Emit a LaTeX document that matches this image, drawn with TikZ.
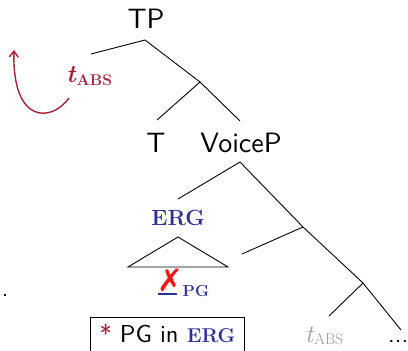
\documentclass[tikz,border=0pt]{standalone}
\usepackage{fontspec}
\usetikzlibrary{arrows.meta}
\setsansfont{lmsans10-regular.otf}
\newfontfamily\dejavu{DejaVu Sans}
\definecolor{absred}{HTML}{A3243B}
\definecolor{ergblue}{HTML}{2E3192}
\definecolor{grayt}{HTML}{9A9A9A}
\definecolor{xred}{HTML}{F01818}
\begin{document}
\begin{tikzpicture}[x=1pt,y=-1pt,
  br/.style={line width=0.9pt},
  lab/.style={inner sep=0pt, anchor=base},
  big/.style={font=\sffamily\fontsize{28}{30}\selectfont},
  ergst/.style={text=ergblue, font=\rmfamily\bfseries\fontsize{22}{24}\selectfont}]
\clip (0,0) rectangle (408,351);
% labels
\node[lab,big] (tp) at (146,28) {TP};
\node[lab,big] (tt) at (156,152) {T};
\node[lab,big] (voicep) at (241,152) {VoiceP};
\node[lab,ergst] (erg) at (178,225.5) {ERG};
\node[lab,anchor=base west,text=absred,font=\rmfamily\bfseries\fontsize{25}{26}\selectfont] (tabs) at (66,82)
  {\textit{t}\raisebox{-3pt}{\fontsize{15.5}{16}\selectfont ABS}};
\node[lab,anchor=base west,text=grayt,font=\rmfamily\fontsize{25}{28}\selectfont] (tgray) at (305,342)
  {\textit{t}\raisebox{-2pt}{\fontsize{15.5}{17}\selectfont ABS}};
\node[lab,anchor=base west,font=\sffamily\fontsize{24}{28}\selectfont] (dots) at (388,342) {...};
\node[fill=black,inner sep=0pt,minimum size=2.2pt] (dot) at (5,295) {};
% tree coordinates
\coordinate (tpL) at (91,54);
\coordinate (tpTop) at (145,40);
\coordinate (tbar) at (200,82);
\coordinate (tT) at (157,120);
\coordinate (tV) at (240,121);
\coordinate (vB) at (240,162);
\coordinate (vL) at (178,199);
\coordinate (v1) at (303,227);
\coordinate (v1L) at (242,254);
\coordinate (v2) at (363,283);
\coordinate (v2L) at (329,316);
\coordinate (v2R) at (401,330);
\draw[br] (tpL) -- (tpTop) -- (tbar) -- (tT);
\draw[br] (tbar) -- (tV);
\draw[br] (vL) -- (vB) -- (v1) -- (v2) -- (v2R);
\draw[br] (v1) -- (v1L);
\draw[br] (v2) -- (v2L);
% triangle
\coordinate (triA) at (178,237);
\coordinate (triL) at (128,267);
\coordinate (triR) at (228,267);
\draw[br] (triL) -- (triA) -- (triR) -- cycle;
% crossed-out PG
\node[inner sep=0pt,text=xred,font=\dejavu\bfseries\fontsize{31}{34}\selectfont] (xx) at (170.5,280) {✗};
\coordinate (ulL) at (158,294);
\coordinate (ulR) at (177,294);
\draw[ergblue,line width=1.1pt] (ulL) -- (ulR);
\node[inner sep=0pt,anchor=base west,text=ergblue,font=\rmfamily\bfseries\fontsize{16}{18}\selectfont] (pg) at (182.5,296) {PG};
% box
\node[draw,line width=0.9pt,anchor=base,inner xsep=9pt,inner ysep=11pt,text height=14pt,text depth=4pt,
  font=\sffamily\fontsize{24.5}{26}\selectfont] (box) at (167.5,342)
  {\textcolor{absred}{*} PG in \textcolor{ergblue}{\rmfamily\bfseries\fontsize{20}{22}\selectfont ERG}};
% movement arrow
\draw[absred,line width=1.4pt,-{Straight Barb[length=6pt,width=9pt]}] (69,98) .. controls (52,122) and (12,125) .. (14,50);
\end{tikzpicture}
\end{document}
